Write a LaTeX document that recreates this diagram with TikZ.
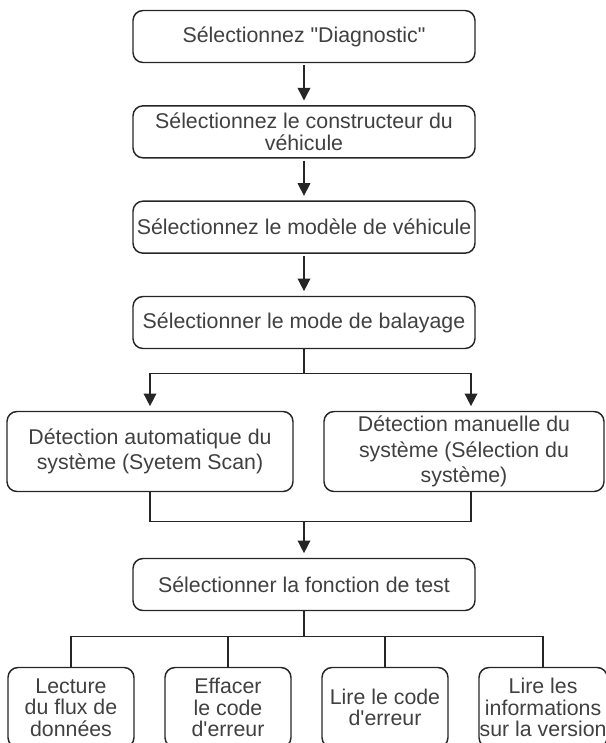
\documentclass[tikz,border=0pt]{standalone}
\usepackage{fontspec}
\setmainfont{Liberation Sans}
\usetikzlibrary{positioning,arrows.meta}

\begin{document}
\begin{tikzpicture}[
    box/.style={draw=black!85, line width=1.1pt, rounded corners=7.5pt, align=center,
        text=black!75, font=\fontsize{16pt}{16pt}\selectfont, inner sep=1pt, outer sep=0pt},
    wide box/.style={box, minimum width=256.5pt, minimum height=39pt},
    mid box/.style={box, minimum height=60pt, font=\fontsize{16pt}{19pt}\selectfont},
    small box/.style={box, minimum width=94.5pt, minimum height=60pt, inner xsep=0.5pt},
    link/.style={draw=black!85, line width=1.1pt},
    flow/.style={link, -{Triangle[length=9.5pt,width=9.5pt]}, shorten <=2pt, shorten >=4pt}
]
    \path[use as bounding box, clip] (-228pt,27.375pt) rectangle (226.5pt,-529.875pt);

    \node[wide box] (select diagnostic) at (0,0) {Sélectionnez \textquotedbl Diagnostic\textquotedbl};
    \node[wide box, below=32.5pt of select diagnostic] (select maker) {Sélectionnez le constructeur du\\véhicule};
    \node[wide box, below=32.5pt of select maker] (select model) {Sélectionnez le modèle de véhicule};
    \node[wide box, below=32.5pt of select model] (select mode) {Sélectionner le mode de balayage};

    \foreach \a/\b in {select diagnostic/select maker,select maker/select model,select model/select mode}
        \draw[flow] (\a) -- (\b);

    \node[mid box, minimum width=214.5pt, below=47.25pt of select mode, xshift=-115.5pt] (auto detect)
        {Détection automatique du\\système (Syetem Scan)};
    \node[mid box, minimum width=210pt, below=47.25pt of select mode, xshift=120pt] (manual detect)
        {Détection manuelle du\\système (Sélection du\\système)};

    \draw[link] (select mode.south) -- ++(0,-18.75pt) coordinate (split);
    \draw[flow, shorten <=0pt] (split) -| (auto detect.north);
    \draw[flow, shorten <=0pt] (split) -| ([xshift=5.25pt]manual detect.north);

    \coordinate (join) at ([yshift=-22.5pt]auto detect.south -| select mode.south);
    \node[wide box, below=27.75pt of join] (select function) {Sélectionner la fonction de test};

    \draw[link] (auto detect.south) |- (join) -| ([xshift=5.25pt]manual detect.south);
    \draw[flow, shorten <=0pt] (join) -- (select function);

    \node[small box, below=42.75pt of select function, xshift=-174.75pt] (function 1) {Lecture\\du flux de\\données};
    \node[small box, right=23.25pt of function 1] (function 2) {Effacer\\le code\\d\textquotesingle erreur};
    \node[small box, right=23.25pt of function 2] (function 3) {Lire le code\\d\textquotesingle erreur};
    \node[small box, right=23.25pt of function 3] (function 4) {Lire les\\informations\\sur la version};

    \foreach \i in {1,...,4}
        \draw[link] (select function.south) -- ++(0,-19.5pt) -| (function \i.north);
\end{tikzpicture}
\end{document}
